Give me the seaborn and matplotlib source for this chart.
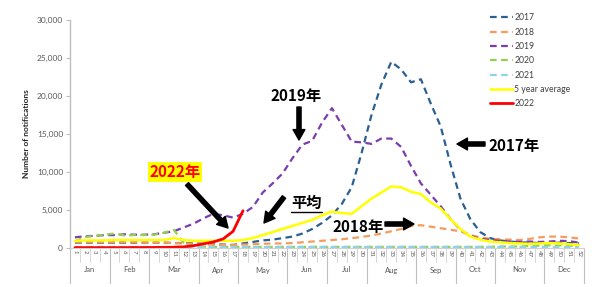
import numpy as np
import pandas as pd
import matplotlib
matplotlib.use("Agg")
import matplotlib.pyplot as plt
import matplotlib.transforms as mtransforms
import seaborn as sns

# ---------------- data ----------------
weeks = list(range(1, 53))
y2017 = [700, 700, 700, 700, 700, 700, 700, 700, 700, 700, 650, 650, 600, 550, 500, 450, 400,
         600, 800, 1000, 1100, 1300, 1500, 1900, 2500, 3300, 4300, 5800, 8000, 12500, 17500,
         21500, 24500, 23500, 21800, 22200, 19000, 16000, 11000, 6500, 3800, 2100, 1300, 1000,
         850, 750, 700, 650, 650, 700, 650, 600]
y2018 = [750, 750, 750, 750, 750, 750, 750, 700, 700, 700, 650, 600, 550, 500, 450, 400, 400,
         450, 500, 550, 600, 600, 650, 750, 850, 950, 1050, 1150, 1300, 1450, 1650, 1900, 2200,
         2500, 2900, 3000, 2800, 2600, 2400, 2200, 1700, 1400, 1200, 1150, 1100, 1050, 1200,
         1400, 1500, 1500, 1400, 1250]
y2019 = [1400, 1550, 1600, 1700, 1700, 1800, 1750, 1750, 1800, 2000, 2200, 2700, 3200, 3900,
         4500, 4300, 4000, 4500, 5400, 7300, 8500, 9800, 11800, 13600, 14100, 16500, 18400,
         16200, 14000, 13900, 13700, 14400, 14400, 13300, 10800, 8500, 7000, 5500, 3800, 2400,
         1600, 1200, 1050, 950, 850, 800, 850, 800, 850, 950, 900, 700]
y2020 = [850, 1450, 1600, 1750, 1900, 1650, 1700, 1700, 1750, 2000, 2400, 700, 300, 200, 150,
         150, 150, 150, 150, 150, 150, 150, 150, 150, 150, 150, 150, 150, 150, 150, 150, 150,
         150, 150, 150, 150, 150, 150, 150, 150, 150, 150, 150, 200, 200, 200, 250, 300, 350,
         350, 300, 250]
y2021 = [150] * 52
y_avg = [950, 1000, 1000, 1000, 1050, 1050, 1050, 1050, 1050, 1050, 1300, 1050, 950, 950, 950,
         950, 950, 1050, 1300, 1700, 2100, 2500, 2900, 3300, 3700, 4300, 4800, 4600, 4500, 5500,
         6500, 7300, 8100, 8000, 7400, 7100, 6000, 5200, 3800, 2500, 1500, 1100, 850, 750, 650,
         600, 550, 600, 650, 600, 500, 400]
weeks_2022 = list(range(1, 19))
y2022 = [50, 50, 50, 50, 50, 50, 60, 60, 70, 80, 100, 150, 300, 550, 800, 1200, 2200, 4900]

months = ["Jan", "Feb", "Mar", "Apr", "May", "Jun", "Jul", "Aug", "Sep", "Oct", "Nov", "Dec"]
month_weeks = [4, 4, 5, 4, 5, 4, 4, 5, 4, 4, 5, 4]

series = [
    ("2017", weeks, y2017, "#2A5F92", "--"),
    ("2018", weeks, y2018, "#F79A5A", "--"),
    ("2019", weeks, y2019, "#7A3DB0", "--"),
    ("2020", weeks, y2020, "#92D050", "--"),
    ("2021", weeks, y2021, "#8FD3E8", "--"),
    ("5 year average", weeks, y_avg, "#FFFF00", "-"),
    ("2022", weeks_2022, y2022, "#FF0000", "-"),
]

# ---------------- figure ----------------
sns.set_style("white")
plt.rcParams["font.family"] = ["Noto Sans CJK JP", "DejaVu Sans"]

W, H = 604, 287
fig = plt.figure(figsize=(W / 100, H / 100), dpi=100)
ax = fig.add_axes([70 / W, 1 - 248 / H, 514 / W, 228 / H])

for name, xs, ys, col, ls in series:
    df = pd.DataFrame({"pos": [w - 1 for w in xs], "val": ys})
    lw = 1.6 if ls == "--" else (1.8 if name != "2022" else 2.0)
    sns.lineplot(data=df, x="pos", y="val", ax=ax, color=col, linewidth=lw,
                 label=name, legend=False)
    line = ax.get_lines()[-1]
    if ls == "--":
        line.set_dashes([3, 2])
    line.set_label(name)

ax.set_xlim(-0.5, 51.5)
ax.set_ylim(0, 30000)
ax.set_yticks(range(0, 30001, 5000))
ax.set_yticklabels([f"{v:,}" for v in range(0, 30001, 5000)],
                   fontsize=6, color="#595959", family="Lato")
ax.tick_params(axis="y", direction="out", length=3, width=0.8, color="#BFBFBF", pad=2, left=True)
ax.set_xticks(range(52))
ax.set_xticklabels([str(w) for w in weeks], rotation=270, fontsize=4.3,
                   color="#595959", family="Lato")
ax.tick_params(axis="x", length=0, pad=1.5)
ax.set_xlabel("")
ax.set_ylabel("Number of notifications", fontsize=6, fontweight="bold",
              family="Lato", labelpad=5)

for s in ["top", "right"]:
    ax.spines[s].set_visible(False)
ax.spines["left"].set_color("#BFBFBF")
ax.spines["bottom"].set_color("#D0D0D0")
ax.spines["left"].set_linewidth(1.0)
ax.spines["bottom"].set_linewidth(0.8)

# category separators below axis
trans = mtransforms.blended_transform_factory(ax.transData, ax.transAxes)
y_short = (248 - 262) / 228
y_long = (248 - 283) / 228
for i in range(53):
    ax.plot([i - 0.5, i - 0.5], [0, y_short], color="#D0D0D0", lw=0.6,
            transform=trans, clip_on=False)
bounds = np.cumsum([0] + month_weeks)
for b in bounds:
    ax.plot([b - 0.5, b - 0.5], [0, y_long], color="#BFBFBF", lw=0.8,
            transform=trans, clip_on=False)
for m, s, n in zip(months, bounds[:-1], month_weeks):
    ax.text(s - 0.5 + n / 2, (248 - 270) / 228, m, transform=trans, ha="center",
            va="center", fontsize=5.5, color="#595959", family="Lato")

# legend
leg = ax.legend(loc="upper left", bbox_to_anchor=(487 / W, 1 - 10 / H),
                bbox_transform=fig.transFigure, frameon=False,
                handlelength=2.6, labelspacing=0.62, handletextpad=0.15,
                borderaxespad=0, prop={"family": "Lato", "size": 6.2})
for t in leg.get_texts():
    t.set_color("#404040")

# annotations
def fp(x, y):
    return (x / W, 1 - y / H)

arrow_kw = dict(arrowstyle="simple,head_length=0.75,head_width=0.85,tail_width=0.3",
                color="black", shrinkA=0, shrinkB=0, mutation_scale=10)

def arrow(x0, y0, x1, y1):
    ax.annotate("", xy=fp(x1, y1), xytext=fp(x0, y0), xycoords="figure fraction",
                textcoords="figure fraction", arrowprops=arrow_kw)

txt_kw = dict(fontsize=11, fontweight="bold", color="black")

fig.text(*fp(296, 96), "2019年", ha="center", va="center", **txt_kw)
arrow(299, 107, 299, 140)

fig.text(*fp(175, 172), "2022年", ha="center", va="center", fontsize=11,
         fontweight="bold", color="#FF0000",
         bbox=dict(facecolor="#FFFF00", edgecolor="none", pad=1.2))
arrow(187, 184, 228, 228)

fig.text(*fp(307, 203), "平均", ha="center", va="center", **txt_kw)
fig.add_artist(plt.Line2D([291 / W, 322 / W], [1 - 212 / H, 1 - 212 / H],
                          color="black", lw=1.0, transform=fig.transFigure))
arrow(284, 197, 264, 223)

fig.text(*fp(358, 227), "2018年", ha="center", va="center", **txt_kw)
arrow(385, 224, 414, 224)

fig.text(*fp(514, 146), "2017年", ha="center", va="center", **txt_kw)
arrow(485, 144, 457, 144)

fig.savefig("out.png", dpi=100)
